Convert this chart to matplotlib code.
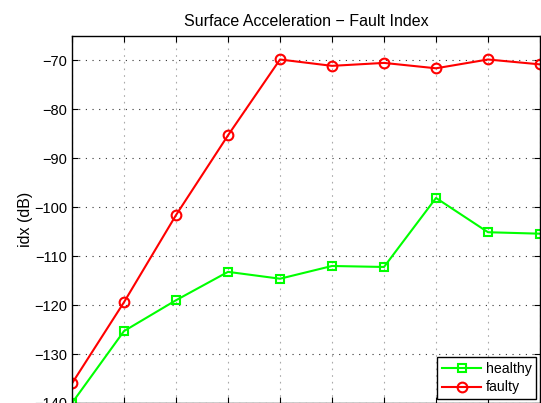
import numpy as np
import matplotlib
matplotlib.use('Agg')
import matplotlib.pyplot as plt

plt.rcParams['font.family'] = ['Liberation Sans', 'DejaVu Sans']

# data
x = [1, 2, 3, 4, 5, 6, 7, 8, 9, 10]
healthy = [-140.0, -125.3, -119.0, -113.2, -114.6, -112.0, -112.2, -98.1, -105.1, -105.4]
faulty = [-136.0, -119.4, -101.6, -85.3, -69.8, -71.1, -70.5, -71.6, -69.8, -70.8]
yticks = [-140, -130, -120, -110, -100, -90, -80, -70]

fig = plt.figure(figsize=(5.41, 4.03), dpi=100)
ax = fig.add_axes([72 / 541, 0.0, 468 / 541, 367 / 403])

ax.plot(x, healthy, color='#00ff00', lw=1.5, marker='s', ms=5.5,
        mfc='none', mec='#00ff00', mew=1.5, label='healthy')
ax.plot(x, faulty, color='#ff0000', lw=1.5, marker='o', ms=7,
        mfc='none', mec='#ff0000', mew=1.5, label='faulty')

ax.set_xlim(1, 10)
ax.set_ylim(-140, -65)
ax.set_xticks(x)
ax.set_yticks(yticks)
ax.set_yticklabels(['\u2212%d' % abs(v) for v in yticks], fontsize=10.5)
# x labels fall below the cropped bottom edge in the reference
ax.tick_params(direction='in', top=True, right=True, length=4, width=0.8,
               labelsize=10.5, labelbottom=False)
ax.xaxis.grid(True, color='#aaaaaa', linestyle=(0, (1.5, 4.5)), lw=0.8)
ax.yaxis.grid(True, color='#333333', linestyle=(0, (1, 5)), lw=0.8)
for s in ax.spines.values():
    s.set_linewidth(1.0)

ax.set_title('Surface Acceleration \u2212 Fault Index', fontsize=11.5, pad=7)
ax.set_ylabel('idx (dB)', fontsize=11.5, labelpad=1)

leg = ax.legend(loc='lower right', fontsize=10.2, fancybox=False,
                framealpha=1, edgecolor='k', handlelength=2.7,
                borderaxespad=0.25, borderpad=0.35, labelspacing=0.3,
                handletextpad=0.35)
leg.get_frame().set_linewidth(1.0)

fig.savefig('out.png', dpi=100)
